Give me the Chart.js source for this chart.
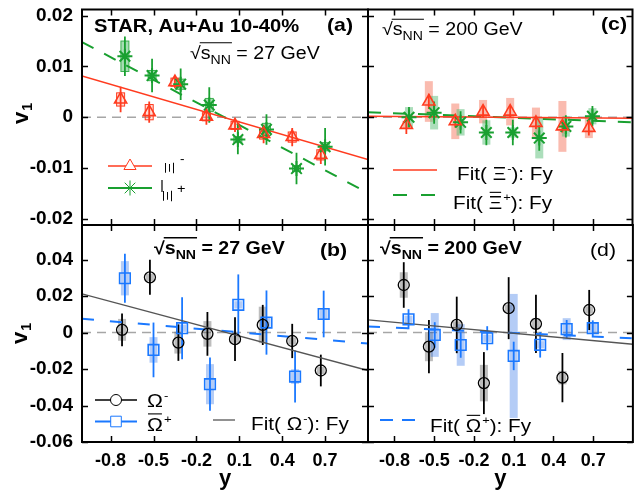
<!DOCTYPE html>
<html>
<head>
<meta charset="utf-8">
<script src="https://cdn.jsdelivr.net/npm/chart.js@4.4.1/dist/chart.umd.min.js"></script>
<style>
  html, body { margin: 0; padding: 0; background: #fff; }
  #wrap { position: relative; width: 642px; height: 497px; }
  canvas { position: absolute; left: 0; top: 0; }
</style>
</head>
<body>
<div id="wrap">
  <canvas id="cA" width="642" height="497"></canvas>
  <canvas id="cB" width="642" height="497"></canvas>
  <canvas id="cC" width="642" height="497"></canvas>
  <canvas id="cD" width="642" height="497"></canvas>
</div>
<script>
// ---------- ticks ----------
const XTICKS = [-0.8, -0.5, -0.2, 0.1, 0.4, 0.7];
const YTICKS_XI = [-0.02, -0.01, 0, 0.01, 0.02];
const YTICKS_OM = [-0.06, -0.04, -0.02, 0, 0.02, 0.04];
const XFIT = [-1, 1];

// ---------- (a) Xi, 27 GeV ----------
const xiM27_y    = [-0.73, -0.53, -0.35, -0.13, 0.07, 0.27, 0.47, 0.67];
const xiM27_v    = [0.0035, 0.0010, 0.0069, 0.0001, -0.0016, -0.0033, -0.0039, -0.0074];
const xiM27_stat = [0.0025, 0.0021, 0.0012, 0.0016, 0.0013, 0.0018, 0.0018, 0.0018];
const xiM27_sys  = [0.0013, 0.0015, 0.0008, 0.0008, 0.0008, 0.0010, 0.0010, 0.0010];
const xiP27_y    = [-0.70, -0.51, -0.31, -0.11, 0.09, 0.29, 0.50, 0.70];
const xiP27_v    = [0.0120, 0.0082, 0.0065, 0.0024, -0.0044, -0.0024, -0.0101, -0.0058];
const xiP27_stat = [0.0039, 0.0033, 0.0031, 0.0035, 0.0029, 0.0030, 0.0031, 0.0037];
const xiP27_sys  = [0.0030, 0.0010, 0.0010, 0.0013, 0.0006, 0.0012, 0.0006, 0.0008];
const xiM27_fit  = [0.0081, -0.0083];
const xiP27_fit  = [0.0148, -0.0149];

// ---------- (c) Xi, 200 GeV ----------
const xiM200_y    = [-0.71, -0.54, -0.34, -0.13, 0.075, 0.27, 0.47, 0.67];
const xiM200_v    = [-0.0015, 0.0031, -0.0008, 0.0011, 0.0011, -0.0011, -0.0018, -0.0021];
const xiM200_stat = [0.0018, 0.0015, 0.0012, 0.0012, 0.0012, 0.0012, 0.0012, 0.0015];
const xiM200_sys  = [0.0008, 0.0040, 0.0035, 0.0023, 0.0027, 0.0030, 0.0050, 0.0020];
const xiP200_y    = [-0.69, -0.50, -0.30, -0.105, 0.095, 0.295, 0.496, 0.697];
const xiP200_v    = [0.0000, 0.0009, -0.0010, -0.0030, -0.0030, -0.0041, -0.0018, 0.0002];
const xiP200_stat = [0.0020, 0.0022, 0.0022, 0.0025, 0.0025, 0.0025, 0.0022, 0.0020];
const xiP200_sys  = [0.0020, 0.0033, 0.0026, 0.0024, 0.0010, 0.0040, 0.0020, 0.0016];
const xiM200_fit  = [0.0002, -0.0002];
const xiP200_fit  = [0.0010, -0.0010];

// ---------- (b) Omega, 27 GeV ----------
const omM27_y    = [-0.72, -0.525, -0.326, -0.123, 0.07, 0.264, 0.47, 0.67];
const omM27_v    = [0.0015, 0.0303, -0.0055, -0.0007, -0.0036, 0.0042, -0.0046, -0.0208];
const omM27_stat = [0.0090, 0.0096, 0.0100, 0.0120, 0.0120, 0.0110, 0.0094, 0.0087];
const omM27_sys  = [0.0060, 0.0020, 0.0060, 0.0070, 0.0020, 0.0100, 0.0020, 0.0020];
const omP27_y    = [-0.70, -0.50, -0.30, -0.105, 0.093, 0.29, 0.49, 0.69];
const omP27_v    = [0.0298, -0.0095, 0.0024, -0.0283, 0.0152, 0.0055, -0.0241, 0.0102];
const omP27_stat = [0.0135, 0.0150, 0.0170, 0.0146, 0.0167, 0.0176, 0.0143, 0.0128];
const omP27_sys  = [0.0094, 0.0070, 0.0020, 0.0110, 0.0020, 0.0030, 0.0040, 0.0030];
const omM27_fit  = [0.0212, -0.0208];
const omP27_fit  = [0.0076, -0.0060];

// ---------- (d) Omega, 200 GeV ----------
const omM200_y    = [-0.73, -0.54, -0.33, -0.125, 0.062, 0.268, 0.468, 0.67];
const omM200_v    = [0.0261, -0.0077, 0.0042, -0.0277, 0.0134, 0.0048, -0.0247, 0.0124];
const omM200_stat = [0.0125, 0.0146, 0.0155, 0.0170, 0.0170, 0.0160, 0.0135, 0.0110];
const omM200_sys  = [0.0070, 0.0080, 0.0020, 0.0100, 0.0020, 0.0030, 0.0037, 0.0020];
const omP200_y    = [-0.694, -0.496, -0.30, -0.10, 0.10, 0.30, 0.50, 0.697];
const omP200_v    = [0.0073, -0.0013, -0.0068, -0.0031, -0.0128, -0.0067, 0.0019, 0.0024];
const omP200_stat = [0.0055, 0.0070, 0.0070, 0.0066, 0.0078, 0.0070, 0.0050, 0.0043];
const omP200_sys  = [0.0020, 0.0120, 0.0114, 0.0020, 0.0340, 0.0020, 0.0060, 0.0030];
const omM200_fit  = [0.0070, -0.0064];
const omP200_fit  = [0.0033, -0.0031];

// ---------- style ----------
const FONT = '"Liberation Sans", Arial, sans-serif';
const RED = '#ff3b1f', GREEN = '#19a030', BLUE = '#1a78ff', BLACK = '#000';
const SX = 1.12; // the original text is a bit wide
const L = 82, M = 368, R = 633, T = 9, H = 225, B = 442;

const pts = (xs, vs) => xs.map((x, i) => ({x: x, y: vs[i]}));

function markers(xs, vs, stat, sys, color, style, radius, bw, sysFill, sysStroke) {
  return { data: pts(xs, vs), borderColor: color, backgroundColor: 'rgba(0,0,0,0)',
    pointStyle: style, pointRadius: radius, pointBorderWidth: bw, showLine: false,
    stat: stat, sys: sys, sysFill: sysFill, sysStroke: sysStroke, order: 1 };
}
function fit(vals, color, width, dash) {
  return { data: pts(XFIT, vals), showLine: true, borderColor: color, borderWidth: width,
    borderDash: dash || [], pointRadius: 0, order: 2 };
}

// ---------- text helpers ----------
function put(ctx, s, x, y, size, bold, color) {
  ctx.save();
  ctx.font = (bold ? 'bold ' : '') + size + 'px ' + FONT;
  ctx.fillStyle = color || '#000';
  ctx.textAlign = 'left'; ctx.textBaseline = 'alphabetic';
  ctx.translate(x, y); ctx.scale(SX, 1);
  ctx.fillText(s, 0, 0);
  const w = ctx.measureText(s).width * SX;
  ctx.restore();
  return x + w;
}
function hline(ctx, x1, x2, y, w, color, dash) {
  ctx.save(); ctx.strokeStyle = color || '#000'; ctx.lineWidth = w;
  ctx.setLineDash(dash || []);
  ctx.beginPath(); ctx.moveTo(x1, y); ctx.lineTo(x2, y); ctx.stroke(); ctx.restore();
}
function sqrtS(ctx, x, y, size, bold, rest) {
  let cx = put(ctx, '√', x, y, size, bold);
  const s0 = cx;
  cx = put(ctx, 's', cx, y, size, bold);
  cx = put(ctx, 'NN', cx, y + size * 0.3, size * 0.72, bold);
  hline(ctx, s0 - 1, cx + 1, y - size * 0.9, bold ? 1.6 : 1.1);
  put(ctx, rest, cx, y, size, bold);
}
function particle(ctx, x, y, size, sym, sup, bar) {
  const x0 = x;
  let cx = put(ctx, sym, x, y, size);
  if (bar) hline(ctx, x0 + 1, cx - 1, y - size * 0.9, 1.1);
  return put(ctx, sup, cx + 1, y - size * 0.42, size * 0.62);
}
function fitLabel(ctx, x, y, size, sym, sup, bar) {
  let cx = put(ctx, 'Fit( ', x, y, size);
  cx = particle(ctx, cx, y, size, sym, sup, bar);
  put(ctx, '): Fy', cx, y, size);
}
function legendPoint(ctx, style, r, color, x, y, bw) {
  ctx.save(); ctx.strokeStyle = color; ctx.fillStyle = '#fff';
  Chart.helpers.drawPoint(ctx, {pointStyle: style, radius: r, rotation: 0, borderWidth: bw}, x, y);
  ctx.restore();
}
function vTitle(ctx, x, y) {
  ctx.save(); ctx.translate(x, y); ctx.rotate(-Math.PI / 2);
  ctx.fillStyle = '#000'; ctx.font = 'bold 22px ' + FONT;
  ctx.fillText('v', 0, 0);
  const w = ctx.measureText('v').width;
  ctx.font = 'bold 14px ' + FONT;
  ctx.fillText('1', w + 1, 4);
  ctx.restore();
}
function rotGlyph(ctx, s, x, y, size) {
  ctx.save(); ctx.translate(x, y); ctx.rotate(-Math.PI / 2); ctx.scale(1.25, 0.8);
  ctx.font = size + 'px ' + FONT; ctx.fillStyle = '#000';
  ctx.textAlign = 'center'; ctx.textBaseline = 'middle';
  ctx.fillText(s, 0, 0); ctx.restore();
}

// ---------- panel plugin: zero line, error boxes/bars, frame, ticks, text ----------
function panelPlugin(p) {
  return {
    id: 'panel',
    beforeDatasetsDraw(chart) {
      const ctx = chart.ctx, xs = chart.scales.x, ys = chart.scales.y, a = chart.chartArea;
      ctx.save();
      ctx.beginPath(); ctx.rect(a.left, a.top, a.right - a.left, a.bottom - a.top); ctx.clip();
      hline(ctx, a.left, a.right, ys.getPixelForValue(0), 1.5, '#a6a6a6', [9, 6]);
      chart.data.datasets.forEach(ds => {
        if (!ds.sys) return;
        ds.data.forEach((pt, i) => {
          const px = xs.getPixelForValue(pt.x);
          const y1 = ys.getPixelForValue(pt.y + ds.sys[i]);
          const y2 = ys.getPixelForValue(pt.y - ds.sys[i]);
          ctx.fillStyle = ds.sysFill;
          ctx.fillRect(px - 4, y1, 8, y2 - y1);
          if (ds.sysStroke) {
            ctx.strokeStyle = ds.sysStroke; ctx.lineWidth = 1;
            ctx.strokeRect(px - 4, y1, 8, y2 - y1);
          }
        });
      });
      chart.data.datasets.forEach(ds => {
        if (!ds.stat) return;
        ctx.strokeStyle = ds.borderColor; ctx.lineWidth = 1.8;
        ds.data.forEach((pt, i) => {
          const px = xs.getPixelForValue(pt.x);
          ctx.beginPath();
          ctx.moveTo(px, ys.getPixelForValue(pt.y + ds.stat[i]));
          ctx.lineTo(px, ys.getPixelForValue(pt.y - ds.stat[i]));
          ctx.stroke();
        });
      });
      ctx.restore();
    },
    afterDraw(chart) {
      const ctx = chart.ctx, xs = chart.scales.x, ys = chart.scales.y, a = chart.chartArea;
      ctx.save();
      ctx.strokeStyle = '#000'; ctx.lineWidth = 1.5;
      XTICKS.forEach(v => {
        const px = Math.round(xs.getPixelForValue(v)) + 0.5;
        ctx.beginPath();
        ctx.moveTo(px, a.bottom); ctx.lineTo(px, a.bottom - 6);
        ctx.moveTo(px, a.top); ctx.lineTo(px, a.top + 6);
        ctx.stroke();
      });
      p.yticks.forEach(v => {
        const py = Math.round(ys.getPixelForValue(v)) + 0.5;
        ctx.beginPath();
        ctx.moveTo(a.left, py); ctx.lineTo(a.left + 6, py);
        ctx.moveTo(a.right, py); ctx.lineTo(a.right - 6, py);
        ctx.stroke();
      });
      ctx.lineWidth = 2;
      ctx.strokeRect(a.left, a.top, a.right - a.left, a.bottom - a.top);
      ctx.restore();
      p.texts(ctx);
    }
  };
}

function noPad(s) { s.paddingTop = 0; s.paddingBottom = 0; s.paddingLeft = 0; s.paddingRight = 0; }

function makePanel(id, p) {
  const tickFont = (size) => ({family: FONT, size: size, weight: 'bold', lineHeight: 1});
  return new Chart(document.getElementById(id), {
    type: 'scatter',
    data: { datasets: p.datasets },
    options: {
      responsive: false, animation: false, devicePixelRatio: 1,
      layout: { padding: p.padding },
      plugins: { legend: { display: false }, tooltip: { enabled: false } },
      elements: { line: { tension: 0 } },
      scales: {
        x: {
          type: 'linear', min: -1, max: 1, display: p.showX,
          afterBuildTicks: s => { s.ticks = XTICKS.map(v => ({value: v})); },
          afterFit: s => { s.height = p.showX ? 55 : 0; noPad(s); },
          grid: { display: false, drawTicks: false }, border: { display: false },
          ticks: { color: '#000', font: tickFont(18), padding: 10, maxRotation: 0, autoSkip: false,
                   callback: v => String(v) },
          title: { display: true, text: 'y', color: '#000',
                   font: {family: FONT, size: 22, weight: 'bold', lineHeight: 1}, padding: {top: 0, bottom: 7} }
        },
        y: {
          type: 'linear', min: p.ymin, max: p.ymax, display: p.showY,
          afterBuildTicks: s => { s.ticks = p.yticks.map(v => ({value: v})); },
          afterFit: s => { s.width = p.showY ? L : 0; noPad(s); },
          grid: { display: false, drawTicks: false }, border: { display: false },
          ticks: { color: '#000', font: tickFont(19), padding: 9, autoSkip: false,
                   callback: v => String(v) }
        }
      }
    },
    plugins: [panelPlugin(p)]
  });
}

const XI_MIN = -0.0212, XI_MAX = 0.0212, OM_MIN = -0.0600, OM_MAX = 0.0590;

// (a)
makePanel('cA', {
  padding: {left: 0, top: T, right: 642 - M, bottom: 497 - H},
  showX: false, showY: true, ymin: XI_MIN, ymax: XI_MAX, yticks: YTICKS_XI,
  datasets: [
    fit(xiM27_fit, RED, 1.5),
    fit(xiP27_fit, GREEN, 2, [13, 12]),
    markers(xiM27_y, xiM27_v, xiM27_stat, xiM27_sys, RED, 'triangle', 7, 1.6, 'rgba(255,120,90,0.25)', RED),
    markers(xiP27_y, xiP27_v, xiP27_stat, xiP27_sys, GREEN, 'star', 7.5, 2, 'rgba(60,180,90,0.45)', 'rgba(25,160,48,0.8)')
  ],
  texts: ctx => {
    put(ctx, 'STAR, Au+Au 10-40%', 94, 32, 18, true);
    put(ctx, '(a)', 327, 31, 19, true);
    sqrtS(ctx, 190, 58.5, 17.5, false, ' = 27 GeV');
    vTitle(ctx, 28, 124);
    hline(ctx, 108, 152, 166, 1.5, RED);
    legendPoint(ctx, 'triangle', 7, RED, 130, 166, 1.6);
    hline(ctx, 108, 152, 188, 1.8, GREEN);
    legendPoint(ctx, 'star', 7.5, GREEN, 130, 188, 2);
    rotGlyph(ctx, 'Ξ', 171, 168, 15);
    put(ctx, '-', 180, 163, 12);
    rotGlyph(ctx, 'Ξ', 169, 196, 15);
    ctx.save(); ctx.strokeStyle = '#000'; ctx.lineWidth = 1.2;
    ctx.beginPath(); ctx.moveTo(162, 180); ctx.lineTo(162, 192); ctx.stroke(); ctx.restore();
    put(ctx, '+', 177, 193, 13);
  }
});

// (c)
makePanel('cC', {
  padding: {left: M, top: T, right: 642 - R, bottom: 497 - H},
  showX: false, showY: false, ymin: XI_MIN, ymax: XI_MAX, yticks: YTICKS_XI,
  datasets: [
    fit(xiM200_fit, RED, 1.5),
    fit(xiP200_fit, GREEN, 2, [13, 12]),
    markers(xiM200_y, xiM200_v, xiM200_stat, xiM200_sys, RED, 'triangle', 7, 1.6, 'rgba(245,120,95,0.5)'),
    markers(xiP200_y, xiP200_v, xiP200_stat, xiP200_sys, GREEN, 'star', 7.5, 2, 'rgba(90,190,120,0.5)')
  ],
  texts: ctx => {
    sqrtS(ctx, 382, 35, 17.5, false, ' = 200 GeV');
    put(ctx, '(c)', 601, 30, 19, true);
    hline(ctx, 393, 437, 170, 1.5, RED);
    fitLabel(ctx, 457, 180, 18.5, 'Ξ', '-', false);
    hline(ctx, 393, 437, 195, 2, GREEN, [14, 14]);
    fitLabel(ctx, 453, 209, 18.5, 'Ξ', '+', true);
  }
});

// (b)
makePanel('cB', {
  padding: {left: 0, top: H, right: 642 - M, bottom: 0},
  showX: true, showY: true, ymin: OM_MIN, ymax: OM_MAX, yticks: YTICKS_OM,
  datasets: [
    fit(omM27_fit, '#555', 1.3),
    fit(omP27_fit, BLUE, 2, [12, 16]),
    markers(omM27_y, omM27_v, omM27_stat, omM27_sys, BLACK, 'circle', 5.5, 1.3, 'rgba(90,90,90,0.4)'),
    markers(omP27_y, omP27_v, omP27_stat, omP27_sys, BLUE, 'rect', 7.5, 1.6, 'rgba(40,110,230,0.35)')
  ],
  texts: ctx => {
    sqrtS(ctx, 154, 253.5, 17.5, true, ' = 27 GeV');
    put(ctx, '(b)', 320, 256, 19, true);
    vTitle(ctx, 27, 344);
    hline(ctx, 95, 137, 400, 1.5, BLACK);
    legendPoint(ctx, 'circle', 5.5, BLACK, 116, 400, 1.3);
    particle(ctx, 147, 407, 19, 'Ω', '-', false);
    hline(ctx, 95, 137, 421.5, 1.8, BLUE);
    legendPoint(ctx, 'rect', 7.5, BLUE, 116, 421.5, 1.6);
    particle(ctx, 147, 431, 19, 'Ω', '+', true);
    hline(ctx, 213, 235, 420, 1.3, '#555');
    fitLabel(ctx, 251, 430, 18.5, 'Ω', '-', false);
  }
});

// (d)
makePanel('cD', {
  padding: {left: M, top: H, right: 642 - R, bottom: 0},
  showX: true, showY: false, ymin: OM_MIN, ymax: OM_MAX, yticks: YTICKS_OM,
  datasets: [
    fit(omM200_fit, '#555', 1.3),
    fit(omP200_fit, BLUE, 2, [12, 16]),
    markers(omM200_y, omM200_v, omM200_stat, omM200_sys, BLACK, 'circle', 5.5, 1.3, 'rgba(90,90,90,0.4)'),
    markers(omP200_y, omP200_v, omP200_stat, omP200_sys, BLUE, 'rect', 7.5, 1.6, 'rgba(40,110,230,0.35)')
  ],
  texts: ctx => {
    sqrtS(ctx, 380, 253.5, 17.5, true, ' = 200 GeV');
    put(ctx, '(d)', 590, 256, 19, false);
    hline(ctx, 380, 415, 420, 2, BLUE, [13, 9]);
    fitLabel(ctx, 430, 432, 18.5, 'Ω', '+', true);
  }
});
</script>
</body>
</html>
